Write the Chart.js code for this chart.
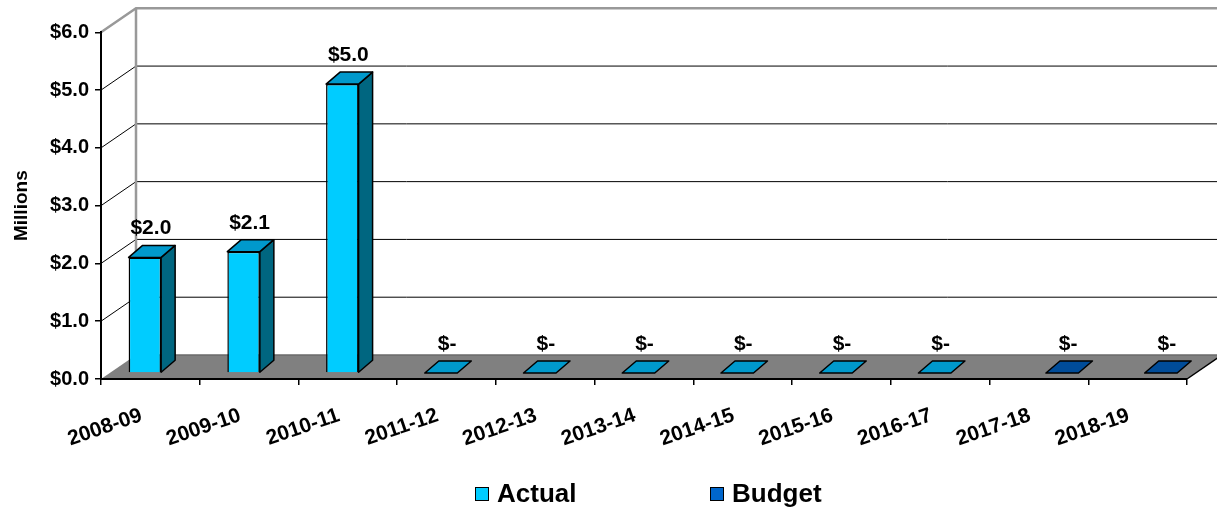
<!DOCTYPE html>
<html>
<head>
<meta charset="utf-8">
<script src="https://cdn.jsdelivr.net/npm/chart.js@4.4.0/dist/chart.umd.min.js"></script>
<style>
  body { margin: 0; background: #fff; }
  #wrap { position: relative; width: 1217px; height: 512px; }
  .legend { position: absolute; top: 478px; display: flex; align-items: center;
            font: bold 26px "Liberation Sans", Arial, sans-serif; color: #000; }
  .legend .box { display: inline-block; width: 12px; height: 12px; border: 1px solid #000; margin-right: 8px; }
</style>
</head>
<body>
<div id="wrap">
  <canvas id="chart"></canvas>
  <div class="legend" style="left:475px"><span class="box" style="background:#00CCFF"></span>Actual</div>
  <div class="legend" style="left:710px"><span class="box" style="background:#0066CC"></span>Budget</div>
</div>
<script>
const labels = ['2008-09', '2009-10', '2010-11', '2011-12', '2012-13', '2013-14',
                '2014-15', '2015-16', '2016-17', '2017-18', '2018-19'];
const actual = [2.0, 2.1, 5.0, 0, 0, 0, 0, 0, 0, null, null];
const budget = [null, null, null, null, null, null, null, null, null, 0, 0];
const yMax = 6;
const yStep = 1;

const font = { family: '"Liberation Sans", Arial, sans-serif', size: 20, weight: 'bold' };

// fake 3d: walls, floor, bar sides and tops
const WALL_X = 35, WALL_Y = -24;
const SHIFT_X = 8.9, SHIFT_Y = -6;
const DEPTH_X = 14, DEPTH_Y = -12;

function poly(ctx, pts, fill) {
  ctx.beginPath();
  ctx.moveTo(pts[0][0], pts[0][1]);
  for (let i = 1; i < pts.length; i++) ctx.lineTo(pts[i][0], pts[i][1]);
  ctx.closePath();
  ctx.fillStyle = fill;
  ctx.fill();
  ctx.stroke();
}

const box3d = {
  id: 'box3d',
  beforeDraw(chart) {
    const { ctx, chartArea: a, scales: { y } } = chart;
    ctx.save();
    // floor
    ctx.fillStyle = '#808080';
    ctx.beginPath();
    ctx.moveTo(a.left, a.bottom);
    ctx.lineTo(a.right, a.bottom);
    ctx.lineTo(a.right + WALL_X, a.bottom + WALL_Y);
    ctx.lineTo(a.left + WALL_X, a.bottom + WALL_Y);
    ctx.closePath();
    ctx.fill();
    ctx.strokeStyle = '#6a6a6a';
    ctx.lineWidth = 1.5;
    ctx.beginPath();
    ctx.moveTo(a.left + WALL_X, a.bottom + WALL_Y);
    ctx.lineTo(a.right + WALL_X, a.bottom + WALL_Y);
    ctx.stroke();
    ctx.strokeStyle = '#000';
    ctx.beginPath();
    ctx.moveTo(a.right, a.bottom);
    ctx.lineTo(a.right + WALL_X, a.bottom + WALL_Y);
    ctx.stroke();

    // gridlines on side wall and back wall
    y.ticks.forEach(t => {
      if (t.value === 0) return;
      const py = y.getPixelForValue(t.value);
      const top = t.value === y.max;
      ctx.strokeStyle = top ? '#999' : '#000';
      ctx.lineWidth = top ? 2.5 : 1;
      ctx.beginPath();
      ctx.moveTo(a.left, py);
      ctx.lineTo(a.left + WALL_X, py + WALL_Y);
      ctx.lineTo(a.right + WALL_X, py + WALL_Y);
      ctx.stroke();
    });
    ctx.strokeStyle = '#999';
    ctx.lineWidth = 2.5;
    ctx.beginPath();
    ctx.moveTo(a.left + WALL_X, a.top + WALL_Y);
    ctx.lineTo(a.left + WALL_X, a.bottom + WALL_Y);
    ctx.stroke();
    ctx.restore();
  },
  beforeDatasetsDraw(chart) {
    chart.ctx.save();
    chart.ctx.translate(SHIFT_X, SHIFT_Y);
  },
  afterDatasetsDraw(chart) {
    const ctx = chart.ctx;
    ctx.strokeStyle = '#000';
    ctx.lineWidth = 1.5;
    ctx.lineJoin = 'round';
    chart.data.datasets.forEach((ds, di) => {
      const meta = chart.getDatasetMeta(di);
      meta.data.forEach((bar, i) => {
        const v = ds.data[i];
        if (v == null) return;
        const l = bar.x - bar.width / 2, r = bar.x + bar.width / 2;
        const t = bar.y, b = bar.base;
        if (b - t > 0.5) {
          poly(ctx, [[r, b], [r + DEPTH_X, b + DEPTH_Y], [r + DEPTH_X, t + DEPTH_Y], [r, t]], ds.sideColor);
        }
        poly(ctx, [[l, t], [r, t], [r + DEPTH_X, t + DEPTH_Y], [l + DEPTH_X, t + DEPTH_Y]], ds.topColor);

        ctx.fillStyle = '#000';
        ctx.font = 'bold 21px "Liberation Sans", Arial, sans-serif';
        ctx.textAlign = 'center';
        ctx.textBaseline = 'alphabetic';
        const txt = v === 0 ? '$-' : '$' + v.toFixed(1);
        ctx.fillText(txt, bar.x + 6, t + DEPTH_Y - 11);
      });
    });
    ctx.restore();
  }
};

new Chart(document.getElementById('chart'), {
  type: 'bar',
  data: {
    labels: labels,
    datasets: [{
      label: 'Actual',
      data: actual,
      backgroundColor: '#00CCFF',
      sideColor: '#006680',
      topColor: '#0099CC',
      borderColor: '#000',
      borderWidth: 1.5
    }, {
      label: 'Budget',
      data: budget,
      backgroundColor: '#0066CC',
      sideColor: '#003366',
      topColor: '#004C99',
      borderColor: '#000',
      borderWidth: 1.5
    }]
  },
  options: {
    responsive: true,
    maintainAspectRatio: false,
    animation: false,
    categoryPercentage: 0.583,
    barPercentage: 1.13,
    layout: { padding: { top: 32.3, right: 30, left: 0, bottom: 0 } },
    plugins: {
      legend: { display: false },
      tooltip: { enabled: false }
    },
    scales: {
      x: {
        grid: { offset: true, drawOnChartArea: false, drawTicks: true, tickLength: 6, color: '#000', lineWidth: 1.5 },
        border: { display: true, color: '#000', width: 2 },
        ticks: { autoSkip: false, minRotation: 19, maxRotation: 19, padding: 18, labelOffset: -9, color: '#000',
                 font: { family: font.family, size: 21, weight: 'bold' } },
        afterFit: s => { s.height = 133; }
      },
      y: {
        min: 0,
        max: yMax,
        grid: { drawOnChartArea: false, drawTicks: true, tickLength: 6, color: '#000', lineWidth: 1.5 },
        border: { display: true, color: '#000', width: 2 },
        ticks: { stepSize: yStep, padding: 6, color: '#000', font: font, callback: v => '$' + v.toFixed(1) },
        title: { display: true, text: 'Millions', color: '#000', padding: { top: 10, bottom: 0 },
                 font: { family: font.family, size: 19, weight: 'bold' } },
        afterFit: s => { s.width = 101; }
      }
    }
  },
  plugins: [box3d]
});
</script>
</body>
</html>
